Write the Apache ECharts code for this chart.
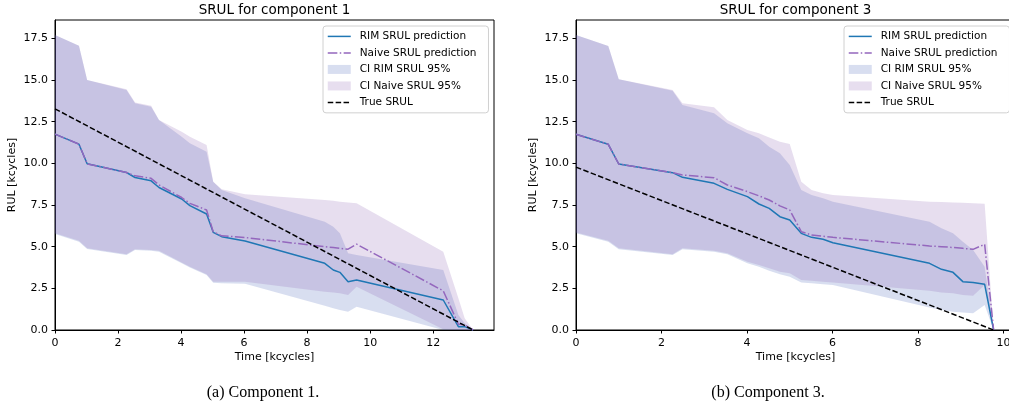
<!DOCTYPE html>
<html>
  <head>
    <title>SRUL components</title>
    <script src="https://cdn.jsdelivr.net/npm/echarts@6/dist/echarts.min.js"></script>
    <style>
      body { margin: 0; background: #fff; }
    </style>
  </head>
  <body>
    <div id="main" style="width: 1009px; height: 412px"></div>
    <script>
      // component 1
      var timeC1 = [0, 0.76, 1.02, 2.27, 2.54, 3.05, 3.3, 4.02, 4.28, 4.81, 5.02, 5.29, 6.03, 8.56, 8.83, 9.04, 9.3, 9.57, 12.32, 12.8, 13.0, 13.27];
      var rimC1 = [11.75, 11.15, 9.97, 9.45, 9.15, 8.95, 8.55, 7.86, 7.46, 6.96, 5.86, 5.6, 5.34, 4.0, 3.6, 3.46, 2.9, 3.0, 1.8, 0.2, 0.2, 0];
      var naiveC1 = [11.75, 11.15, 9.97, 9.45, 9.25, 9.1, 8.7, 7.95, 7.6, 7.2, 5.9, 5.65, 5.55, 5.0, 4.95, 4.9, 4.85, 5.15, 2.35, 0.35, 0.3, 0];
      var rimHiC1 = [17.7, 17.05, 15.0, 14.4, 13.6, 13.4, 12.6, 11.6, 11.2, 10.7, 8.9, 8.4, 7.9, 6.5, 6.2, 5.8, 4.6, 4.5, 3.6, 0.9, 0.4, 0];
      var rimLoC1 = [5.76, 5.3, 4.86, 4.5, 4.8, 4.75, 4.7, 4.0, 3.75, 3.3, 2.84, 2.8, 2.78, 1.46, 1.3, 1.2, 1.1, 1.4, 0, 0, 0, 0];
      var naiveHiC1 = [17.7, 17.05, 15.0, 14.45, 13.65, 13.45, 12.6, 11.9, 11.6, 11.1, 8.9, 8.45, 8.15, 7.8, 7.75, 7.7, 7.65, 7.6, 4.7, 1.9, 0.7, 0];
      var naiveLoC1 = [5.8, 5.35, 4.9, 4.55, 4.85, 4.8, 4.75, 4.05, 3.8, 3.35, 2.9, 2.9, 2.9, 2.3, 2.25, 2.2, 2.1, 2.6, 0.05, 0, 0, 0];
      var trueTimeC1 = [0, 13.27];
      var trueC1 = [13.27, 0];

      // component 3
      var timeC3 = [0, 0.755, 1.0, 2.26, 2.49, 3.23, 3.54, 4.01, 4.28, 4.52, 4.77, 5.0, 5.27, 5.51, 5.78, 6.01, 8.27, 8.55, 8.82, 9.05, 9.29, 9.56, 9.77];
      var rimC3 = [11.74, 11.14, 9.96, 9.44, 9.16, 8.8, 8.44, 8.0, 7.56, 7.3, 6.8, 6.6, 5.8, 5.56, 5.44, 5.24, 4.0, 3.64, 3.46, 2.9, 2.85, 2.74, 0];
      var naiveC3 = [11.74, 11.14, 9.96, 9.44, 9.3, 9.14, 8.7, 8.3, 8.05, 7.8, 7.45, 7.2, 5.9, 5.7, 5.63, 5.56, 5.04, 5.0, 4.95, 4.9, 4.84, 5.14, 0];
      var rimHiC3 = [17.7, 17.04, 15.04, 14.36, 13.5, 13.0, 12.4, 11.8, 11.5, 11.0, 10.6, 9.9, 8.4, 8.1, 7.9, 7.7, 6.5, 6.1, 5.8, 5.3, 4.8, 3.8, 0];
      var rimLoC3 = [5.8, 5.3, 4.84, 4.5, 4.84, 4.7, 4.55, 4.0, 3.8, 3.55, 3.35, 3.2, 2.85, 2.8, 2.75, 2.7, 1.35, 1.2, 1.1, 1.05, 1.0, 1.5, 0];
      var naiveHiC3 = [17.7, 17.04, 15.04, 14.4, 13.6, 13.36, 12.6, 12.0, 11.8, 11.55, 11.3, 11.16, 8.9, 8.4, 8.2, 8.1, 7.7, 7.68, 7.65, 7.63, 7.6, 7.58, 0];
      var naiveLoC3 = [5.85, 5.35, 4.9, 4.55, 4.9, 4.75, 4.6, 4.1, 3.9, 3.7, 3.5, 3.4, 3.0, 2.95, 2.9, 2.85, 2.35, 2.25, 2.2, 2.1, 2.05, 2.7, 0];
      var trueTimeC3 = [0, 9.77];
      var trueC3 = [9.77, 0];

      var names = ["RIM SRUL prediction", "Naive SRUL prediction", "CI RIM SRUL 95%", "CI Naive SRUL 95%", "True SRUL"];
      var FONT = "DejaVu Sans";
      var rimFill = "rgba(60,90,180,0.2)";
      var naiveFill = "rgba(135,92,175,0.2)";
      var rimColor = "#1f77b4", naiveColor = "#9467bd";
      var dashDot = [9.6, 2.4, 1.5, 2.4], dashed = [5.5, 2.4];

      function pairs(xs, ys) {
        return xs.map(function (x, i) { return [x, ys[i]]; });
      }

      function band(name, xs, lo, hi, fill, gi) {
        return {
          name: name, type: "custom", xAxisIndex: gi, yAxisIndex: gi,
          silent: true, itemStyle: { color: fill },
          data: xs.map(function (x, i) { return [x, lo[i], hi[i]]; }),
          encode: { x: 0, y: [1, 2] },
          renderItem: function (params, api) {
            if (params.dataIndex !== 0) return;
            var pts = [];
            for (var i = 0; i < xs.length; i++) pts.push(api.coord([xs[i], hi[i]]));
            for (var j = xs.length - 1; j >= 0; j--) pts.push(api.coord([xs[j], lo[j]]));
            return { type: "polygon", shape: { points: pts }, style: { fill: fill } };
          }
        };
      }

      function line(name, xs, ys, color, type, gi) {
        return {
          name: name, type: "line", xAxisIndex: gi, yAxisIndex: gi,
          data: pairs(xs, ys), symbol: "none", showSymbol: false, silent: true,
          itemStyle: { color: color },
          lineStyle: { color: color, width: 1.5, type: type }
        };
      }

      function xAxis(gi, max) {
        return {
          type: "value", gridIndex: gi, min: 0, max: max, interval: 2,
          name: "Time [kcycles]", nameLocation: "middle", nameGap: 16, nameMoveOverlap: false,
          nameTextStyle: { fontFamily: FONT, fontSize: 11, color: "#000" },
          axisLine: { show: true, lineStyle: { color: "#000", width: 1 } },
          axisTick: { show: true, length: 3.5, lineStyle: { color: "#000" } },
          axisLabel: { color: "#000", fontFamily: FONT, fontSize: 11, margin: 2, showMaxLabel: false },
          splitLine: { show: false }
        };
      }

      function yAxis(gi) {
        return {
          type: "value", gridIndex: gi, min: 0, max: 18.6, interval: 2.5,
          name: "RUL [kcycles]", nameLocation: "middle", nameGap: 32, nameMoveOverlap: false,
          nameTextStyle: { fontFamily: FONT, fontSize: 11, color: "#000" },
          axisLine: { show: true, lineStyle: { color: "#000", width: 1 } },
          axisTick: { show: true, length: 3.5, lineStyle: { color: "#000" } },
          axisLabel: {
            color: "#000", fontFamily: FONT, fontSize: 11, margin: 7, showMaxLabel: false,
            formatter: function (v) { return v.toFixed(1); }
          },
          splitLine: { show: false }
        };
      }

      function lineItem(name, color, type) {
        return {
          name: name,
          itemStyle: { color: "rgba(0,0,0,0)", borderColor: "rgba(0,0,0,0)", borderWidth: 0, opacity: 0 },
          lineStyle: { color: color, width: 1.5, type: type }
        };
      }

      function legend(left) {
        return {
          orient: "vertical", left: left, top: 26,
          itemWidth: 23, itemHeight: 9, itemGap: -4.3,
          backgroundColor: "rgba(255,255,255,0.8)", borderColor: "#d0d0d0", borderWidth: 1,
          borderRadius: 3, padding: [0, 12, 0, 4],
          textStyle: { fontFamily: FONT, fontSize: 10.5, color: "#000", padding: [0, 0, 0, 4] },
          selectedMode: false,
          data: [
            lineItem(names[0], rimColor, "solid"),
            lineItem(names[1], naiveColor, dashDot),
            { name: names[2], icon: "rect", itemStyle: { color: rimFill } },
            { name: names[3], icon: "rect", itemStyle: { color: naiveFill } },
            lineItem(names[4], "#000", dashed)
          ]
        };
      }

      function label(x, y, text, font) {
        return {
          type: "text", x: x, y: y, silent: true,
          style: { text: text, fill: "#000", font: font, align: "center", verticalAlign: "middle" }
        };
      }

      var chart = echarts.init(document.getElementById("main"));
      var option = {
        animation: false,
        backgroundColor: "#fff",
        grid: [
          { left: 55, top: 20, width: 439, height: 310, outerBoundsMode: "none", show: true, borderColor: "#000", borderWidth: 1, backgroundColor: "transparent" },
          { left: 576, top: 20, width: 439, height: 310, outerBoundsMode: "none", show: true, borderColor: "#000", borderWidth: 1, backgroundColor: "transparent" }
        ],
        xAxis: [xAxis(0, 13.93), xAxis(1, 10.27)],
        yAxis: [yAxis(0), yAxis(1)],
        legend: [legend(323), legend(844)],
        graphic: [
          label(274.5, 10, "SRUL for component 1", "13.5px DejaVu Sans"),
          label(795.5, 10, "SRUL for component 3", "13.5px DejaVu Sans"),
          label(263, 393, "(a) Component 1.", "16px Liberation Serif"),
          label(768, 393, "(b) Component 3.", "16px Liberation Serif")
        ],
        series: [
          band(names[2], timeC1, rimLoC1, rimHiC1, rimFill, 0),
          band(names[3], timeC1, naiveLoC1, naiveHiC1, naiveFill, 0),
          line(names[0], timeC1, rimC1, rimColor, "solid", 0),
          line(names[1], timeC1, naiveC1, naiveColor, dashDot, 0),
          line(names[4], trueTimeC1, trueC1, "#000", dashed, 0),
          band(names[2], timeC3, rimLoC3, rimHiC3, rimFill, 1),
          band(names[3], timeC3, naiveLoC3, naiveHiC3, naiveFill, 1),
          line(names[0], timeC3, rimC3, rimColor, "solid", 1),
          line(names[1], timeC3, naiveC3, naiveColor, dashDot, 1),
          line(names[4], trueTimeC3, trueC3, "#000", dashed, 1)
        ]
      };
      chart.setOption(option);
    </script>
  </body>
</html>
